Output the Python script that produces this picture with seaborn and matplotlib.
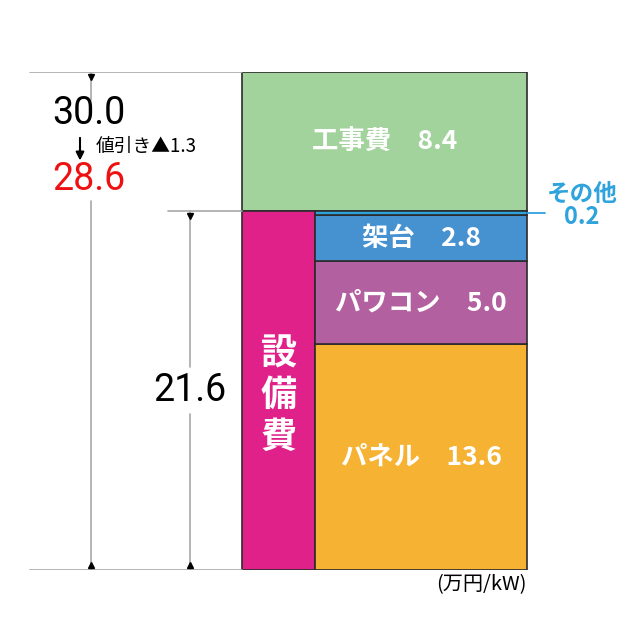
#!/usr/bin/env python3
"""Cost breakdown block chart (万円/kW) drawn with seaborn/matplotlib."""

import matplotlib
matplotlib.use("Agg")
import matplotlib.pyplot as plt
import seaborn as sns


# Data.
total_before = 30.0
discount = 1.3
total_after = 28.6
construction_label = "工事費"
construction_value = 8.4
equipment_label = "設備費"
equipment_value = 21.6
# Equipment breakdown, bottom to top.
parts = ["パネル", "パワコン", "架台", "その他"]
part_values = [13.6, 5.0, 2.8, 0.2]
part_colors = ["#F6B232", "#B2609F", "#4691D0", "#2FA3DC"]
unit_label = "(万円/kW)"

GREEN = "#A3D39D"
PINK = "#E0218A"
LINE_GRAY = "#A8A8A8"
EDGE = "#2B2B2B"
SONOTA_BLUE = "#2FA3DC"


def main() -> None:
    sns.set_theme(style="white")
    plt.rcParams["font.family"] = ["Noto Sans CJK JP", "DejaVu Sans"]

    fig = plt.figure(figsize=(6.4, 6.4), dpi=100)
    # x axis in layout units (0-640), y axis in 万円/kW.
    ax = fig.add_axes([0, 1 - 570 / 640, 1, (570 - 72) / 640])
    ax.set_xlim(0, 640)
    ax.set_ylim(0, total_before)
    ax.axis("off")

    # Outer column positions.
    left, split, right = 242, 315, 527

    # 工事費 block on top of the equipment cost.
    ax.bar((left + right) / 2, construction_value, width=right - left,
           bottom=equipment_value, color=GREEN, edgecolor=EDGE, linewidth=1.2)
    ax.text((left + right) / 2, equipment_value + construction_value / 2,
            f"{construction_label}\u3000{construction_value:.1f}",
            color="white", fontsize=19, fontweight="bold",
            ha="center", va="center")

    # 設備費 column.
    ax.bar((left + split) / 2, equipment_value, width=split - left,
           color=PINK, edgecolor=EDGE, linewidth=1.2)
    ax.text((left + split) / 2, equipment_value / 2 - 0.3, "\n".join(equipment_label),
            color="white", fontsize=26, fontweight="bold",
            ha="center", va="center", linespacing=1.15)

    # Stacked equipment parts.
    bottom = 0.0
    for name, value, color in zip(parts, part_values, part_colors):
        ax.bar((split + right) / 2, value, width=right - split, bottom=bottom,
               color=color, edgecolor=EDGE, linewidth=1.2)
        if name != "その他":
            ax.text((split + right) / 2, bottom + value / 2,
                    f"{name}\u3000{value:.1f}", color="white", fontsize=19,
                    fontweight="bold", ha="center", va="center")
        else:
            mid = bottom + value / 2
            ax.plot([right, right + 18], [mid, mid], color=SONOTA_BLUE, lw=1.3)
            ax.text(582, mid + 0.45, f"{name}\n{value:.1f}", color=SONOTA_BLUE,
                    fontsize=17, fontweight="bold", ha="center", va="center",
                    linespacing=0.95)
        bottom += value

    # Dimension guide lines.
    ax.plot([30, left], [total_before, total_before], color=LINE_GRAY, lw=1.2)
    ax.plot([30, left], [0, 0], color=LINE_GRAY, lw=1.2)
    ax.plot([168, left], [equipment_value, equipment_value], color=LINE_GRAY, lw=1.2)

    # Total dimension (30.0) at x=91.
    ax.plot([91, 91], [total_before, 28.3], color=LINE_GRAY, lw=1.2)
    ax.plot([91, 91], [22.2, 0], color=LINE_GRAY, lw=1.2)
    ax.plot([91], [total_before - 0.3], marker="v", color="black", ms=5)
    ax.plot([91], [0.3], marker="^", color="black", ms=5)
    ax.text(52, 27.5, f"{total_before:.1f}", color="black", fontsize=27,
            ha="left", va="center", family=["Roboto", "DejaVu Sans"])
    ax.annotate("", xy=(80, 24.5), xytext=(80, 26.2),
                arrowprops=dict(arrowstyle="-|>", color="black", lw=1.5,
                                mutation_scale=12))
    ax.text(96, 25.5, f"値引き▲{discount:.1f}", color="black", fontsize=13.5,
            ha="left", va="center",
            family=["Noto Sans CJK JP", "DejaVu Sans"])
    ax.text(52, 23.5, f"{total_after:.1f}", color="#EE1111", fontsize=27,
            ha="left", va="center", family=["Roboto", "DejaVu Sans"])

    # Equipment dimension (21.6) at x=190.
    mid_eq = equipment_value / 2
    ax.plot([190, 190], [equipment_value, mid_eq + 1.4], color=LINE_GRAY, lw=1.2)
    ax.plot([190, 190], [mid_eq - 1.4, 0], color=LINE_GRAY, lw=1.2)
    ax.plot([190], [equipment_value - 0.3], marker="v", color="black", ms=5)
    ax.plot([190], [0.3], marker="^", color="black", ms=5)
    ax.text(190, mid_eq, f"{equipment_value:.1f}", color="black", fontsize=27,
            ha="center", va="center", family=["Roboto", "DejaVu Sans"])

    ax.text(right, -0.9, unit_label, color="black", fontsize=14.5,
            ha="right", va="center")

    fig.savefig("out.png", dpi=100, facecolor="white")


if __name__ == "__main__":
    main()
